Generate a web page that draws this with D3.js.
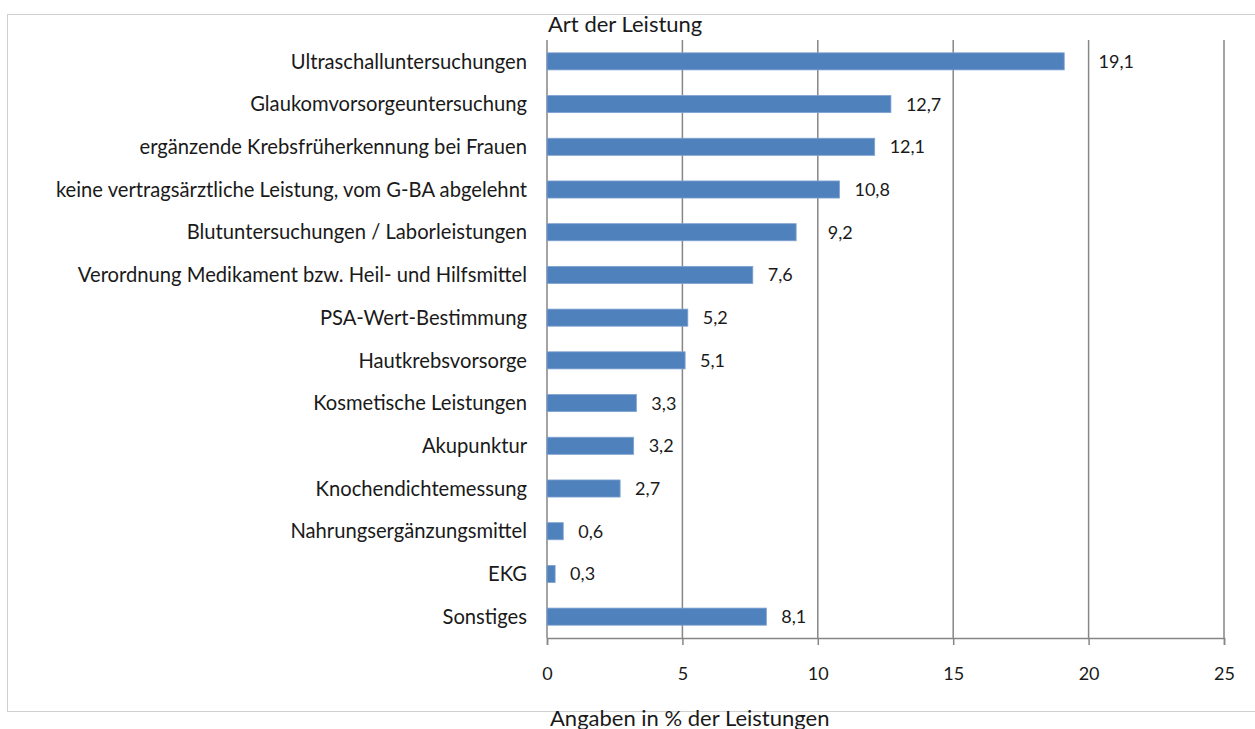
<!DOCTYPE html>
<html>
<head>
<meta charset="utf-8">
<script src="https://cdn.jsdelivr.net/npm/d3@7"></script>
<style>
  body { margin: 0; background: #fff; }
  text { font-family: Lato, "Noto Sans", sans-serif; fill: #1a1a1a; }
</style>
</head>
<body>
<svg id="chart" width="1255" height="729"></svg>
<script>
// data
const categories = [
  "Ultraschalluntersuchungen",
  "Glaukomvorsorgeuntersuchung",
  "ergänzende Krebsfrüherkennung bei Frauen",
  "keine vertragsärztliche Leistung, vom G-BA abgelehnt",
  "Blutuntersuchungen / Laborleistungen",
  "Verordnung Medikament bzw. Heil- und Hilfsmittel",
  "PSA-Wert-Bestimmung",
  "Hautkrebsvorsorge",
  "Kosmetische Leistungen",
  "Akupunktur",
  "Knochendichtemessung",
  "Nahrungsergänzungsmittel",
  "EKG",
  "Sonstiges"
];
const values = [19.1, 12.7, 12.1, 10.8, 9.2, 7.6, 5.2, 5.1, 3.3, 3.2, 2.7, 0.6, 0.3, 8.1];
const xTicks = [0, 5, 10, 15, 20, 25];

const svg = d3.select("#chart");
const margin = { left: 547, right: 31, top: 40, bottom: 91 };
const W = 1255, H = 729;

// outer frame
svg.append("rect")
  .attr("x", 7.5).attr("y", 14.5)
  .attr("width", W).attr("height", 697)
  .style("fill", "none")
  .style("stroke", "#d0d0d0")
  .style("stroke-width", 1);

const x = d3.scaleLinear().domain([0, 25]).range([margin.left, W - margin.right]);
const y = d3.scaleBand().domain(categories).range([margin.top, H - margin.bottom]).paddingInner(0.6).paddingOuter(0.3);

const fmt = v => d3.format(".1f")(v).replace(".", ",");

// gridlines
svg.append("g")
  .selectAll("line")
  .data(xTicks)
  .join("line")
  .attr("x1", d => x(d)).attr("x2", d => x(d))
  .attr("y1", margin.top).attr("y2", H - margin.bottom)
  .style("stroke", "#868686")
  .style("stroke-width", 1.5);

// x axis
const xAxis = svg.append("g")
  .attr("transform", `translate(0,${H - margin.bottom})`)
  .call(d3.axisBottom(x).tickValues(xTicks).tickSize(7).tickPadding(22).tickFormat(d => d));
xAxis.select(".domain").style("stroke", "#868686").style("stroke-width", 1.5);
xAxis.selectAll(".tick line").style("stroke", "#868686").style("stroke-width", 1.5);
xAxis.selectAll("text").style("font-size", "18px").style("font-family", "Lato, sans-serif").style("fill", "#1a1a1a");

// bars
svg.append("g")
  .selectAll("rect")
  .data(values)
  .join("rect")
  .attr("x", x(0))
  .attr("y", (d, i) => y(categories[i]))
  .attr("width", d => x(d) - x(0))
  .attr("height", y.bandwidth())
  .style("fill", "#4f81bd")
  .style("stroke", "#7fa2d0")
  .style("stroke-width", 0.8);

// value labels, pushed past a gridline if it would cut through the number
const labelX = d => {
  let lx = x(d) + 15;
  xTicks.forEach(t => {
    if (x(t) > lx - 2 && x(t) < lx + 14) lx = x(t) + 10;
  });
  return lx;
};
svg.append("g")
  .selectAll("text")
  .data(values)
  .join("text")
  .attr("x", labelX)
  .attr("y", (d, i) => y(categories[i]) + y.bandwidth() / 2)
  .attr("dy", "0.36em")
  .style("font-size", "18px")
  .text(d => fmt(d));

// category labels
svg.append("g")
  .selectAll("text")
  .data(categories)
  .join("text")
  .attr("x", x(0) - 20)
  .attr("y", d => y(d) + y.bandwidth() / 2)
  .attr("dy", "0.36em")
  .attr("text-anchor", "end")
  .style("font-size", "20.2px")
  .text(d => d);

// axis titles
svg.append("text")
  .attr("x", x(0) + 1).attr("y", 32)
  .style("font-size", "22px")
  .text("Art der Leistung");

svg.append("text")
  .attr("x", x(0) + 3).attr("y", 726)
  .style("font-size", "22px")
  .text("Angaben in % der Leistungen");
</script>
</body>
</html>
